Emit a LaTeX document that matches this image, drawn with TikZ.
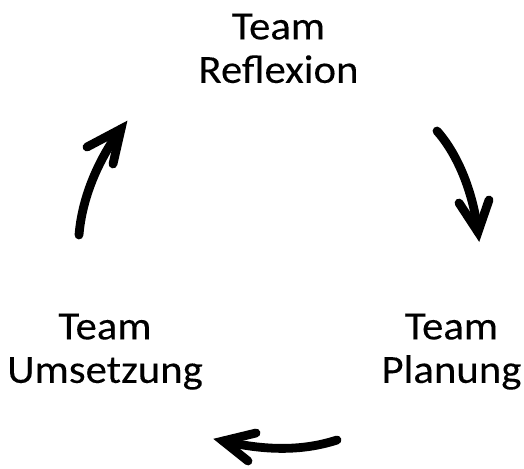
\documentclass[tikz,border=0pt]{standalone}
\usepackage{fontspec}
\setmainfont{Carlito}[FakeStretch=1.07,FakeBold=0.12]
\begin{document}
\begin{tikzpicture}[x=1pt,y=-1pt,
  lbl/.style={align=center,anchor=north,inner sep=0pt,font=\fontsize{40}{43.5}\selectfont},
  shaft/.style={line width=8.8pt,line cap=round},
  barb/.style={line width=8.8pt,line cap=round,line join=miter,miter limit=10}]
\useasboundingbox (0,0) rectangle (524,468);
\node[lbl] (refl) at (278.5,13.5) {Team\\Reflexion};
\node[lbl] (plan) at (451.5,313.5) {Team\\Planung};
\node[lbl] (ums) at (105,313.5) {Team\\Umsetzung};
% arrow 1 (Umsetzung -> Reflexion)
\coordinate (a1t) at (79,235);
\coordinate (a1h) at (121,129);
\coordinate (a1l) at (87,147);
\coordinate (a1r) at (113,164);
\draw[shaft] (a1t) .. controls (82,198) and (98,160) .. (a1h);
\draw[barb] (a1l) -- (a1h) -- (a1r);
% arrow 2 (Reflexion -> Planung)
\coordinate (a2t) at (437,131);
\coordinate (a2h) at (478,232);
\coordinate (a2l) at (459,203);
\coordinate (a2r) at (489,200);
\draw[shaft] (a2t) .. controls (454,150) and (472,185) .. (a2h);
\draw[barb] (a2l) -- (a2h) -- (a2r);
% arrow 3 (Planung -> Umsetzung)
\coordinate (a3t) at (337,440);
\coordinate (a3h) at (223,441);
\coordinate (a3u) at (256,433);
\coordinate (a3d) at (248,461);
\draw[shaft] (a3t) .. controls (300,452) and (262,450) .. (a3h);
\draw[barb] (a3u) -- (a3h) -- (a3d);
\end{tikzpicture}
\end{document}
